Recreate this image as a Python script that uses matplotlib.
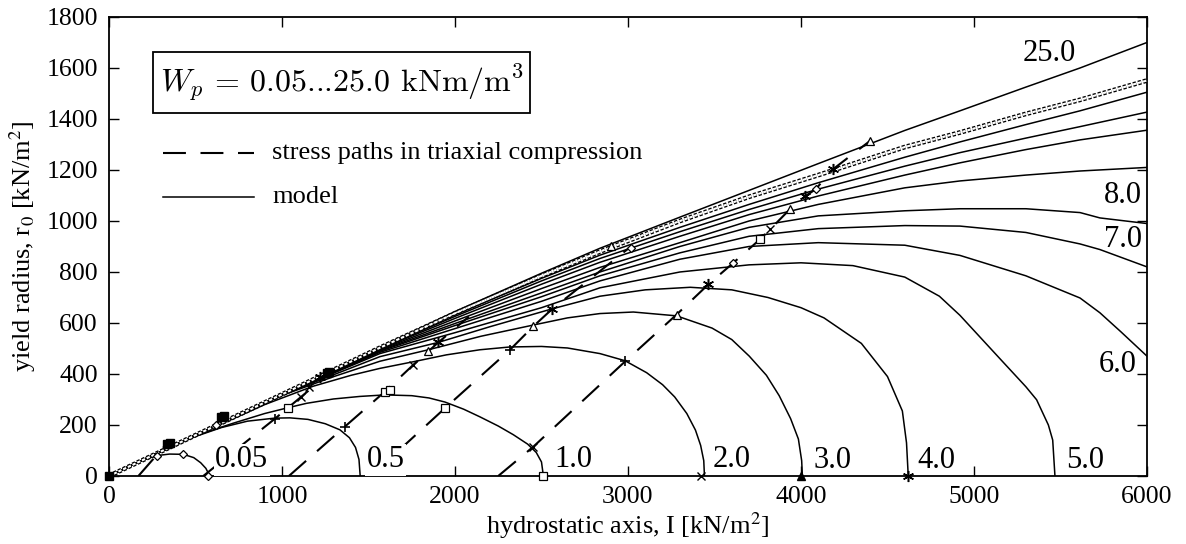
import matplotlib
matplotlib.use("Agg")
import matplotlib.pyplot as plt
import matplotlib.patheffects as pe
from matplotlib.patches import Rectangle

plt.rcParams['font.family'] = ['Liberation Serif', 'DejaVu Serif']
plt.rcParams['mathtext.fontset'] = 'stix'

# ---------------- axis ticks ----------------
x_ticks = [0, 1000, 2000, 3000, 4000, 5000, 6000]
y_ticks = [0, 200, 400, 600, 800, 1000, 1200, 1400, 1600, 1800]

# ---------------- model yield curves (I, r0) ----------------
wp005_I = [0, 100, 200, 276, 350, 430, 490, 530, 560, 572, 575]
wp005_r = [0, 33, 63, 80, 86, 85, 72, 52, 30, 14, 0]

wp05_I = [0, 250, 500, 650, 800, 958, 1046, 1150, 1250, 1335, 1390, 1425, 1445, 1452]
wp05_r = [0, 80, 155, 190, 215, 227, 228, 222, 205, 181, 150, 112, 65, 0]

wp1_I = [0, 250, 500, 718, 900, 1036, 1142, 1297, 1450, 1595, 1750, 1850, 1942, 2050,
         2144, 2250, 2337, 2420, 2470, 2500, 2511]
wp1_r = [0, 80, 158, 207, 245, 268, 285, 302, 312, 318, 315, 306, 290, 262,
         232, 196, 162, 125, 92, 55, 0]

wp2_I = [0, 500, 900, 1180, 1400, 1566, 1759, 1950, 2144, 2318, 2500, 2650, 2838, 2983,
         3108, 3200, 3270, 3340, 3390, 3420, 3438, 3442]
wp2_r = [0, 158, 280, 352, 395, 422, 448, 475, 495, 506, 508, 502, 480, 452,
         405, 358, 310, 245, 180, 120, 60, 0]

wp3_I = [0, 500, 1000, 1300, 1566, 1846, 2150, 2453, 2650, 2838, 3031, 3281, 3486, 3600,
         3701, 3800, 3874, 3940, 3985, 4004, 4008]
wp3_r = [0, 160, 316, 390, 450, 495, 548, 592, 620, 637, 643, 628, 580, 535,
         470, 395, 315, 225, 145, 60, 0]

wp4_I = [0, 500, 1000, 1566, 1904, 2200, 2559, 2838, 3100, 3360, 3600, 3809, 4000,
         4133, 4349, 4500, 4586, 4610, 4620]
wp4_r = [0, 160, 318, 468, 524, 585, 655, 705, 730, 740, 730, 700, 660,
         620, 520, 390, 255, 130, 0]

wp5_I = [0, 500, 1000, 1566, 2000, 2500, 2838, 3300, 3700, 4000, 4300, 4600, 4800, 4919,
         5150, 5300, 5362, 5430, 5455, 5468]
wp5_r = [0, 160, 318, 480, 562, 660, 738, 800, 828, 836, 825, 780, 705, 630,
         460, 350, 299, 200, 141, 0]

wp6_I = [0, 500, 1000, 1566, 2000, 2500, 2838, 3300, 3700, 4100, 4600, 4919, 5300,
         5613, 5728, 5850, 6000]
wp6_r = [0, 160, 319, 485, 578, 685, 765, 850, 900, 915, 905, 865, 785,
         698, 640, 565, 470]

wp7_I = [0, 500, 1000, 1566, 2000, 2500, 2838, 3300, 3700, 4100, 4600, 4919, 5300,
         5613, 5728, 6000]
wp7_r = [0, 160, 319, 489, 590, 703, 785, 875, 940, 970, 982, 980, 955,
         910, 888, 820]

wp8_I = [0, 500, 1000, 1566, 2000, 2500, 2838, 3300, 3700, 4100, 4600, 4919, 5300,
         5613, 5728, 6000]
wp8_r = [0, 160, 319, 492, 598, 718, 800, 900, 975, 1020, 1040, 1048, 1048,
         1033, 1012, 990]

wp10_I = [0, 500, 1000, 1566, 2000, 2500, 2838, 3300, 3700, 4100, 4600, 4919, 5300,
          5613, 6000]
wp10_r = [0, 160, 320, 495, 608, 735, 818, 915, 1000, 1065, 1130, 1157, 1180,
          1196, 1210]

wp12_I = [0, 500, 1000, 1566, 2000, 2500, 2838, 3300, 3700, 4100, 4600, 4919, 5300,
          5613, 6000]
wp12_r = [0, 160, 320, 498, 618, 752, 838, 940, 1025, 1098, 1180, 1228, 1280,
          1318, 1356]

wp15_I = [0, 500, 1000, 1566, 2000, 2500, 2838, 3300, 3700, 4100, 4600, 4919, 5300,
          5613, 6000]
wp15_r = [0, 160, 320, 500, 626, 765, 853, 958, 1045, 1125, 1215, 1268, 1325,
          1370, 1427]

wp18_I = [0, 500, 1000, 1566, 2000, 2500, 2838, 3300, 3700, 4100, 4600, 4919, 5300,
          5613, 6000]
wp18_r = [0, 160, 320, 502, 632, 775, 866, 975, 1065, 1150, 1250, 1310, 1378,
          1432, 1505]

wp20_I = [0, 500, 1000, 1566, 2000, 2500, 2838, 3300, 3700, 4100, 4600, 4919, 5300,
          5613, 6000]
wp20_r = [0, 160, 320, 503, 638, 785, 880, 1000, 1095, 1180, 1290, 1347, 1420,
          1475, 1551]

wp25_I = [0, 500, 1000, 1566, 2000, 2500, 2838, 3300, 3700, 4100, 4600, 4919, 5300,
          5613, 6000]
wp25_r = [0, 160, 320, 505, 645, 795, 893, 1015, 1120, 1225, 1355, 1432, 1525,
          1600, 1700]

# ---------------- stress paths in triaxial compression ----------------
path1_I = [170, 335]
path1_r = [0, 128]
path2_I = [545, 958, 1110, 1180]
path2_r = [0, 224, 310, 350]
path3_I = [1040, 1364, 1595, 1759, 1846, 1904, 2080]
path3_r = [0, 194, 331, 436, 489, 524, 625]
path4_I = [1514, 1942, 2318, 2453, 2559, 3017]
path4_r = [0, 266, 495, 587, 653, 900]
path5_I = [2250, 2453, 2983, 3281, 3464, 3609, 3763, 3821, 3936, 4026, 4084, 4185, 4399]
path5_r = [0, 115, 449, 633, 751, 836, 928, 967, 1046, 1098, 1124, 1203, 1314]

# ---------------- measured points (markers) ----------------
diamond_I = [276, 430, 575, 3609, 4084, 3017, 620]
diamond_r = [80, 85, 0, 836, 1124, 896, 200]
square_I = [1036, 1595, 1942, 2511, 3763, 1625]
square_r = [266, 331, 266, 0, 928, 338]
triangle_I = [1846, 2453, 3281, 3936, 4399, 2900]
triangle_r = [489, 587, 633, 1046, 1314, 900]
star_I = [1904, 2559, 3464, 4026, 4185, 4620, 1222]
star_r = [524, 653, 751, 1098, 1203, 0, 388]
cross_I = [1110, 1759, 2453, 3821, 3420, 1156]
cross_r = [310, 436, 115, 967, 0, 349]
plus_I = [958, 1364, 2318, 2983]
plus_r = [224, 194, 495, 449]
filled_I = [0, 335, 350, 650, 665, 1258, 1270]
filled_r = [0, 125, 130, 230, 236, 404, 408]
filled_tri_I = [4000]
filled_tri_r = [0]

# ---------------- curve labels ----------------
label_text = ["0.05", "0.5", "1.0", "2.0", "3.0", "4.0", "5.0", "6.0", "7.0", "8.0", "25.0"]
label_I = [767, 1600, 2684, 3600, 4182, 4782, 5641, 5830, 5862, 5862, 5435]
label_r = [63, 63, 66, 66, 61, 61, 61, 436, 928, 1098, 1658]

fig = plt.figure(figsize=(11.86, 5.44), dpi=100)
ax = fig.add_axes([0.0919, 0.125, 0.8752, 0.8438])

curves = [(wp005_I, wp005_r), (wp05_I, wp05_r), (wp1_I, wp1_r), (wp2_I, wp2_r),
          (wp3_I, wp3_r), (wp4_I, wp4_r), (wp5_I, wp5_r), (wp6_I, wp6_r),
          (wp7_I, wp7_r), (wp8_I, wp8_r), (wp10_I, wp10_r), (wp12_I, wp12_r),
          (wp15_I, wp15_r), (wp18_I, wp18_r), (wp25_I, wp25_r)]
for ci, cr in curves:
    ax.plot(ci, cr, color='black', lw=1.1, zorder=3, solid_joinstyle='round')

# curve with dense measured points (chain look)
ax.plot(wp20_I, wp20_r, color='white', lw=1.5, dashes=(1.6, 0.9), zorder=3.5,
        path_effects=[pe.Stroke(linewidth=3.4, foreground='black'), pe.Normal()])

dash_style = (0, (11, 7))
for pi, pr in [(path1_I, path1_r), (path2_I, path2_r), (path3_I, path3_r),
               (path4_I, path4_r), (path5_I, path5_r)]:
    ax.plot(pi, pr, color='black', lw=1.5, linestyle=dash_style, zorder=2)

mk = dict(linestyle='none', color='black', mfc='white', mew=0.9, zorder=4, clip_on=False)
ax.plot(diamond_I, diamond_r, marker='D', ms=4.2, **mk)
ax.plot(square_I, square_r, marker='s', ms=5.5, **mk)
ax.plot(triangle_I, triangle_r, marker='^', ms=6, **mk)
ax.plot(star_I, star_r, marker=(6, 2, 0), ms=8, linestyle='none', color='black',
        mew=1.1, zorder=4, clip_on=False)
ax.plot(cross_I, cross_r, marker='x', ms=6, linestyle='none', color='black', mew=1.0,
        zorder=4, clip_on=False)
ax.plot(plus_I, plus_r, marker='+', ms=7, linestyle='none', color='black', mew=1.2,
        zorder=4, clip_on=False)
ax.plot(filled_I, filled_r, marker='s', ms=6, linestyle='none', color='black', zorder=4,
        clip_on=False)
ax.plot(filled_tri_I, filled_tri_r, marker='^', ms=6, linestyle='none', color='black',
        zorder=4, clip_on=False)

for t, xi, yi in zip(label_text, label_I, label_r):
    kw = {}
    if t in ("0.05", "0.5"):
        kw['bbox'] = dict(facecolor='white', edgecolor='none', pad=1.0)
    ax.text(xi, yi, t, fontsize=22, ha='center', va='center', zorder=5, **kw)

ax.set_xlim(x_ticks[0], x_ticks[-1])
ax.set_ylim(y_ticks[0], y_ticks[-1])
ax.set_xticks(x_ticks)
ax.set_yticks(y_ticks)
ax.tick_params(direction='in', length=7, width=1.0, top=True, right=True,
               labelsize=18.5)
ax.tick_params(axis='x', pad=7)
ax.tick_params(axis='y', pad=8)
for s in ax.spines.values():
    s.set_linewidth(1.3)

ax.set_xlabel('hydrostatic axis, I [kN/m$^2$]', fontsize=19, labelpad=2)
ax.set_ylabel('yield radius, r$_0$ [kN/m$^2$]', fontsize=19, labelpad=6)

# box with parameter range
ax.add_patch(Rectangle((0.0424, 0.791), 0.3632, 0.133, transform=ax.transAxes,
                       fill=False, lw=1.3, ec='black', zorder=5))
ax.text(0.224, 0.857, r'$W_p$ = 0.05...25.0 kNm/m$^3$', transform=ax.transAxes,
        fontsize=23, ha='center', va='center', family=['cmr10', 'DejaVu Serif'],
        math_fontfamily='cm', zorder=5)

# legend drawn manually
ax.plot([0.052, 0.1397], [0.7037, 0.7037], transform=ax.transAxes, color='black',
        lw=1.5, linestyle=dash_style)
ax.text(0.157, 0.7037, 'stress paths in triaxial compression', transform=ax.transAxes,
        fontsize=19, ha='left', va='center')
ax.plot([0.052, 0.1397], [0.608, 0.608], transform=ax.transAxes, color='black', lw=1.1)
ax.text(0.157, 0.608, 'model', transform=ax.transAxes, fontsize=19, ha='left', va='center')

fig.savefig('out.png', dpi=100)
